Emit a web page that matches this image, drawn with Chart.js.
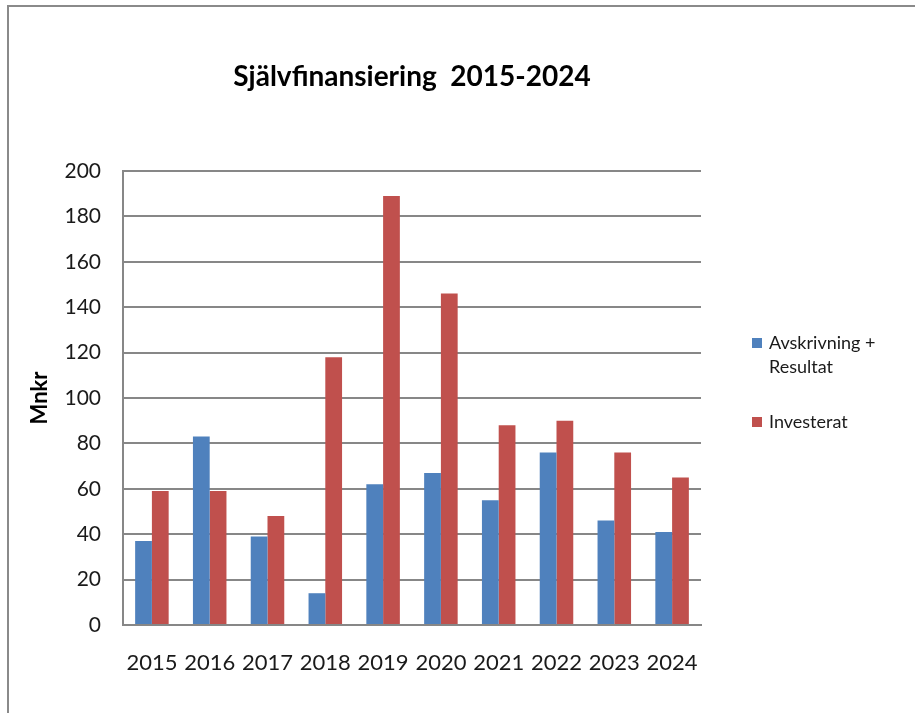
<!DOCTYPE html>
<html>
<head>
<meta charset="utf-8">
<script src="https://cdn.jsdelivr.net/npm/chart.js@4.4.1/dist/chart.umd.min.js"></script>
<style>
  html, body { margin: 0; padding: 0; background: #fff; }
  #wrap { position: relative; width: 915px; height: 713px; }
  #frame {
    position: absolute; left: 7px; top: 5px; right: 0; bottom: 0;
    border-left: 2px solid #8a8a8a; border-top: 2px solid #8a8a8a;
    pointer-events: none;
  }
</style>
</head>
<body>
<div id="wrap">
  <canvas id="chart" width="915" height="713"></canvas>
  <div id="frame"></div>
</div>
<script>
const years = ['2015', '2016', '2017', '2018', '2019', '2020', '2021', '2022', '2023', '2024']
const avskrivningResultat = [37, 83, 39, 14, 62, 67, 55, 76, 46, 41]
const investerat = [59, 59, 48, 118, 189, 146, 88, 90, 76, 65]
const legendLines = [['Avskrivning +', 'Resultat'], ['Investerat']]

const FONT = 'Lato, "Open Sans", sans-serif'
const GRID = '#878787'

// legend to the right of the plot, with wrapped labels
const sideLegend = {
  id: 'sideLegend',
  afterDraw(chart) {
    const { ctx, chartArea } = chart
    const x = chartArea.right + 51
    let y = 338
    ctx.save()
    ctx.font = '18px ' + FONT
    ctx.textBaseline = 'alphabetic'
    chart.data.datasets.forEach((ds, i) => {
      ctx.fillStyle = ds.backgroundColor
      ctx.fillRect(x, y, 10, 10)
      ctx.fillStyle = '#1a1a1a'
      legendLines[i].forEach((line, j) => {
        ctx.fillText(line, x + 17, y + 11 + j * 24)
      })
      y += legendLines[i].length * 24 + 31
    })
    ctx.restore()
  },
}

new Chart(document.getElementById('chart'), {
  type: 'bar',
  data: {
    labels: years,
    datasets: [
      {
        label: legendLines[0].join(' '),
        data: avskrivningResultat,
        backgroundColor: '#4f81bd',
      },
      {
        label: legendLines[1].join(' '),
        data: investerat,
        backgroundColor: '#c0504d',
      },
    ],
  },
  options: {
    responsive: false,
    animation: false,
    categoryPercentage: 0.58,
    barPercentage: 1.0,
    layout: { padding: { top: 0, left: 0, right: 214, bottom: 0 } },
    plugins: {
      legend: { display: false },
      tooltip: { enabled: false },
      title: {
        display: true,
        fullSize: false,
        text: 'Självfinansiering  2015-2024',
        color: '#000',
        font: { family: FONT, size: 28, weight: 'bold' },
        padding: { top: 60, bottom: 77.4 },
      },
    },
    scales: {
      x: {
        grid: { display: false },
        border: { display: true, color: GRID, width: 2 },
        ticks: {
          color: '#1a1a1a',
          font: { family: FONT, size: 22 },
          padding: 17,
          maxRotation: 0,
          autoSkip: false,
        },
        afterFit(scale) { scale.height = 88 },
      },
      y: {
        min: 0,
        max: 200,
        ticks: {
          stepSize: 20,
          color: '#1a1a1a',
          font: { family: FONT, size: 21 },
          padding: 22,
        },
        grid: { color: GRID, lineWidth: 2, drawTicks: false },
        border: { display: true, color: GRID, width: 2 },
        title: {
          display: true,
          text: 'Mnkr',
          color: '#000',
          font: { family: FONT, size: 22, weight: 'bold' },
          padding: { top: 27, bottom: 0 },
        },
        afterFit(scale) { scale.width = 123 },
      },
    },
  },
  plugins: [sideLegend],
})
</script>
</body>
</html>
